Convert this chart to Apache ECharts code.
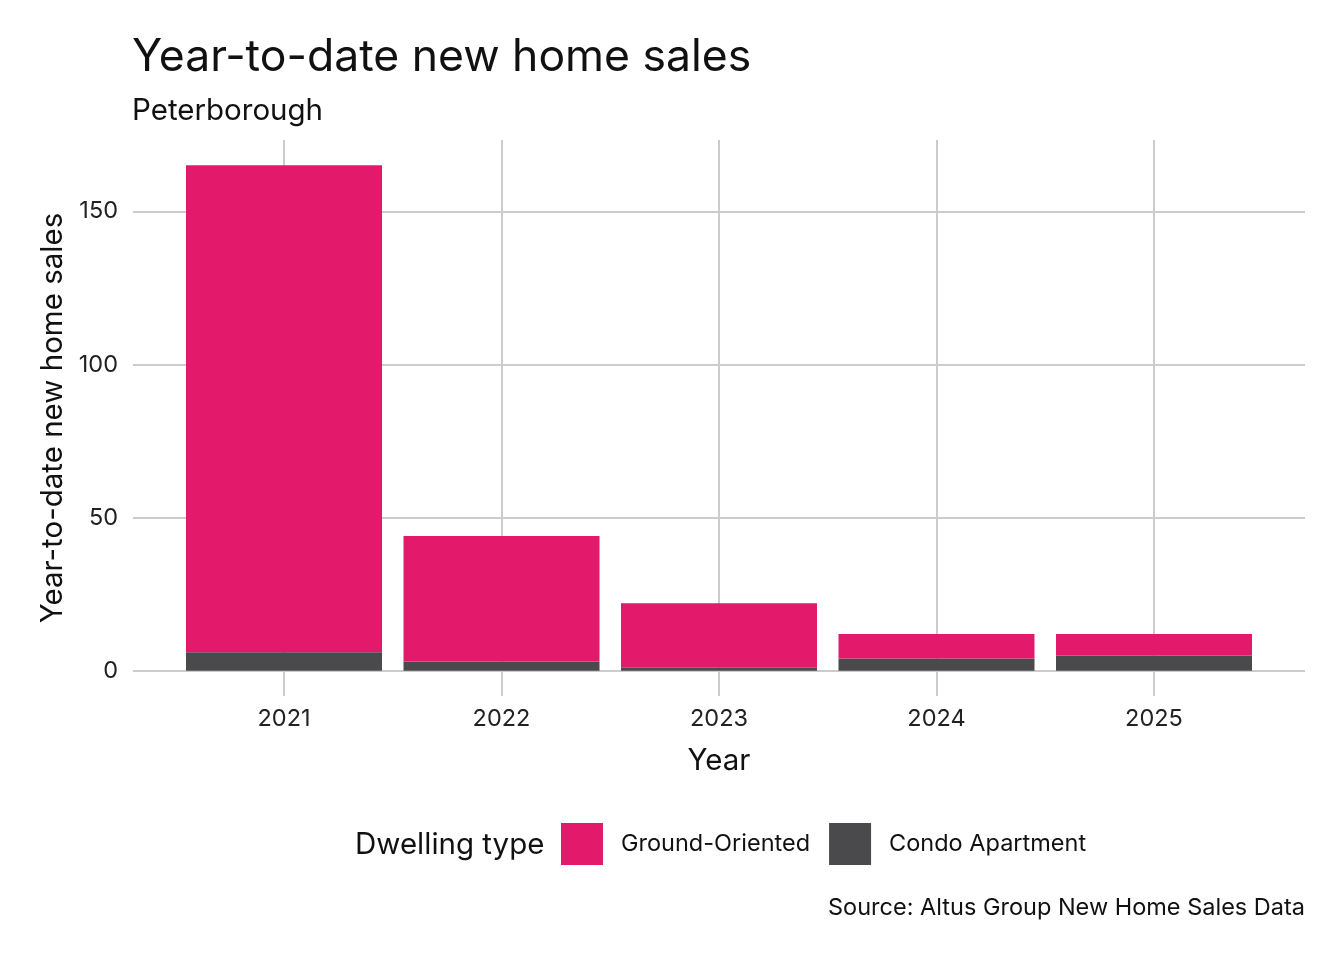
<!DOCTYPE html>
<html>
<head>
<meta charset="utf-8">
<script src="https://cdn.jsdelivr.net/npm/echarts@6/dist/echarts.min.js"></script>
<style>html,body{margin:0;padding:0;background:#fff}#c{width:1344px;height:960px}</style>
</head>
<body>
<div id="c"></div>
<script>
const years = ['2021', '2022', '2023', '2024', '2025'];
const groundOriented = [159, 41, 21, 8, 7];
const condoApartment = [6, 3, 1, 4, 5];
const yTicks = [0, 50, 100, 150];

const totals = years.map((_, i) => groundOriented[i] + condoApartment[i]);
const maxTotal = Math.max(...totals);
const pad = maxTotal * 0.05;

const FONT = 'Inter';
const chart = echarts.init(document.getElementById('c'), null, {renderer: 'canvas'});
chart.setOption({
  backgroundColor: '#ffffff',
  textStyle: {fontFamily: FONT},
  animation: false,
  title: [{
    text: 'Year-to-date new home sales',
    subtext: 'Peterborough',
    left: 127, top: 30,
    itemGap: 16,
    textStyle: {fontFamily: FONT, fontSize: 44.5, fontWeight: 'normal', color: '#111'},
    subtextStyle: {fontFamily: FONT, fontSize: 29.5, color: '#111'}
  }],
  grid: [
    {left: 133, right: 39, top: 140, bottom: 960 - 671},
    {left: 284, right: 1344 - 1154, top: 140, bottom: 960 - 696}
  ],
  xAxis: [
    {gridIndex: 0, type: 'category', data: years, show: false},
    {gridIndex: 1, type: 'category', data: years, boundaryGap: false,
      axisLine: {show: false}, axisTick: {show: false},
      axisLabel: {fontSize: 23.5, color: '#222', margin: 11, fontFamily: FONT},
      splitLine: {show: true, lineStyle: {color: '#cccccc', width: 2}},
      name: 'Year', nameLocation: 'middle', nameGap: 50,
      nameTextStyle: {fontSize: 29.5, color: '#111', fontFamily: FONT}}
  ],
  yAxis: [
    {gridIndex: 0, type: 'value', min: 0, max: maxTotal + pad, interval: 50,
      axisLine: {show: false}, axisTick: {show: false},
      axisLabel: {fontSize: 23.5, color: '#222', margin: 15, showMaxLabel: false, fontFamily: FONT,
        formatter: v => yTicks.includes(v) ? String(v) : ''},
      splitLine: {show: true, showMaxLine: false, lineStyle: {color: '#cccccc', width: 2}}},
    {gridIndex: 1, type: 'value', min: -pad, max: maxTotal + pad, show: false, splitLine: {show: false}}
  ],
  legend: {
    data: ['Ground-Oriented', 'Condo Apartment'],
    left: 556, top: 818,
    icon: 'rect', itemWidth: 42, itemHeight: 42, itemGap: 19,
    textStyle: {fontSize: 23.5, color: '#111', fontFamily: FONT, padding: [4, 0, 0, 13]},
    selectedMode: false
  },
  graphic: [
    {type: 'text', x: 53, y: 418, rotation: Math.PI / 2,
      style: {text: 'Year-to-date new home sales', fontSize: 29.5, fill: '#111', fontFamily: FONT,
        align: 'center', verticalAlign: 'middle'}},
    {type: 'text', left: 355, top: 830, style: {text: 'Dwelling type', fontSize: 29.5, fill: '#111', fontFamily: FONT}},
    {type: 'text', right: 39, top: 896, style: {text: 'Source: Altus Group New Home Sales Data', fontSize: 23.5, fill: '#111', fontFamily: FONT}}
  ],
  series: [
    {name: 'Condo Apartment', type: 'bar', stack: 'a', xAxisIndex: 1, yAxisIndex: 1,
      data: condoApartment, barWidth: 196, clip: false, itemStyle: {color: '#4a494c'}},
    {name: 'Ground-Oriented', type: 'bar', stack: 'a', xAxisIndex: 1, yAxisIndex: 1,
      data: groundOriented, barWidth: 196, clip: false, itemStyle: {color: '#e31a6c'}}
  ]
});
</script>
</body>
</html>
